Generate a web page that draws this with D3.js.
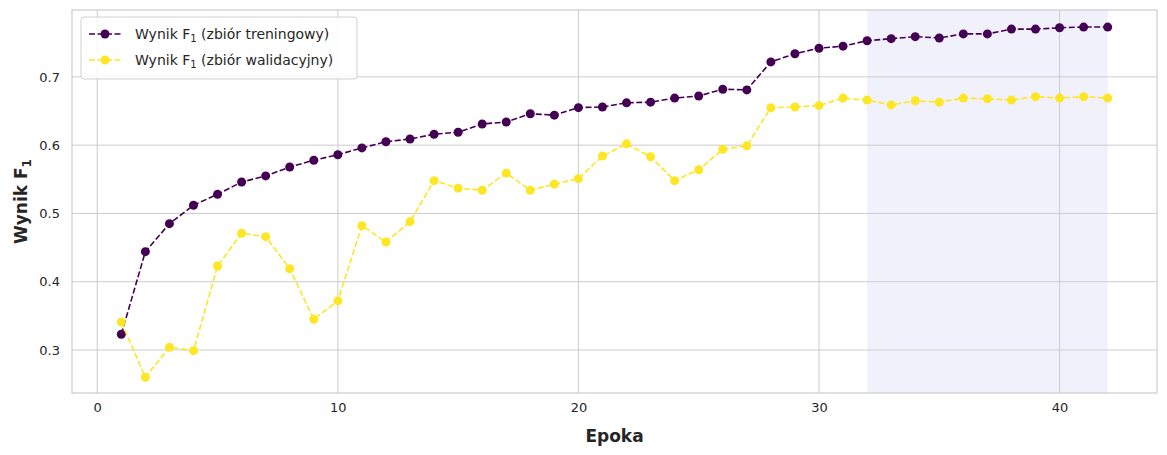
<!DOCTYPE html>
<html><head><meta charset="utf-8">
<script src="https://cdn.jsdelivr.net/npm/d3@7"></script>
<style>body{margin:0;background:#fff;font-family:"DejaVu Sans",sans-serif;}</style>
</head><body><div id="chart"></div>
<script>
const epochs = d3.range(1, 43);
const trainF1 = [0.323,0.444,0.485,0.512,0.528,0.546,0.555,0.568,0.578,0.586,0.596,0.605,0.609,0.616,0.619,0.631,0.634,0.646,0.644,0.655,0.656,0.662,0.663,0.669,0.672,0.682,0.681,0.722,0.734,0.742,0.745,0.753,0.756,0.759,0.757,0.763,0.763,0.770,0.770,0.772,0.773,0.773];
const valF1 = [0.341,0.260,0.304,0.299,0.423,0.471,0.466,0.419,0.345,0.372,0.482,0.458,0.488,0.548,0.537,0.534,0.559,0.534,0.543,0.551,0.584,0.602,0.583,0.548,0.564,0.594,0.599,0.655,0.656,0.658,0.669,0.666,0.659,0.665,0.663,0.669,0.668,0.666,0.671,0.669,0.671,0.669];
const xTicks = [0,10,20,30,40];
const yTicks = [0.3,0.4,0.5,0.6,0.7];
const shade = [32, 42];
const series = [
  {name:"treningowy", values:trainF1, color:"#440154"},
  {name:"walidacyjny", values:valF1, color:"#fde725"}
];

const W = 1167, H = 455;
const m = {left:72, right:10, top:10, bottom:62};
const svg = d3.select("#chart").append("svg").attr("width", W).attr("height", H);
const x = d3.scaleLinear().domain([-1.05, 44.05]).range([m.left, W - m.right]);
const y = d3.scaleLinear().domain([0.237, 0.798]).range([H - m.bottom, m.top]);

svg.append("rect").attr("x", x(shade[0])).attr("y", m.top)
  .attr("width", x(shade[1]) - x(shade[0])).attr("height", y.range()[0] - m.top)
  .attr("fill", "#e6e6fa").attr("opacity", 0.55);

const g = svg.append("g");
g.selectAll(".gx").data(xTicks).enter().append("line")
  .attr("x1", d => x(d)).attr("x2", d => x(d)).attr("y1", m.top).attr("y2", H - m.bottom)
  .attr("stroke", "#cccccc").attr("stroke-width", 1);
g.selectAll(".gy").data(yTicks).enter().append("line")
  .attr("y1", d => y(d)).attr("y2", d => y(d)).attr("x1", m.left).attr("x2", W - m.right)
  .attr("stroke", "#cccccc").attr("stroke-width", 1);

svg.append("rect").attr("x", m.left).attr("y", m.top)
  .attr("width", W - m.right - m.left).attr("height", H - m.bottom - m.top)
  .attr("fill", "none").attr("stroke", "#cccccc").attr("stroke-width", 1.2);

const xAxis = svg.append("g").attr("transform", `translate(0,${H - m.bottom})`)
  .call(d3.axisBottom(x).tickValues(xTicks).tickSize(0).tickPadding(10));
const yAxis = svg.append("g").attr("transform", `translate(${m.left},0)`)
  .call(d3.axisLeft(y).tickValues(yTicks).tickSize(0).tickPadding(12).tickFormat(d3.format(".1f")));
[xAxis, yAxis].forEach(a => {
  a.select(".domain").remove();
  a.selectAll("text").attr("font-size", 13).attr("fill", "#262626").attr("font-family", "DejaVu Sans");
});

const line = d3.line().x((d, i) => x(epochs[i])).y(d => y(d));
series.forEach(s => {
  svg.append("path").datum(s.values).attr("d", line).attr("fill", "none")
    .attr("stroke", s.color).attr("stroke-width", 1.6).attr("stroke-dasharray", "6,2.5");
  svg.selectAll(null).data(s.values).enter().append("circle")
    .attr("cx", (d, i) => x(epochs[i])).attr("cy", d => y(d)).attr("r", 4.5).attr("fill", s.color);
});

svg.append("text").attr("x", (m.left + W - m.right) / 2).attr("y", 442).attr("text-anchor", "middle")
  .attr("font-size", 17).attr("font-weight", "bold").attr("fill", "#262626").text("Epoka");
const yl = svg.append("text").attr("transform", `translate(27,${(m.top + H - m.bottom) / 2}) rotate(-90)`)
  .attr("text-anchor", "middle").attr("font-size", 17).attr("font-weight", "bold").attr("fill", "#262626");
yl.append("tspan").text("Wynik F");
yl.append("tspan").attr("font-size", 12).attr("dy", 4).text("1");

const lg = svg.append("g").attr("transform", "translate(81,17)");
lg.append("rect").attr("width", 276).attr("height", 62).attr("rx", 3)
  .attr("fill", "#fff").attr("fill-opacity", 0.85).attr("stroke", "#d0d0d0");
series.forEach((s, i) => {
  const yy = 17 + i * 26;
  lg.append("line").attr("x1", 8).attr("x2", 40).attr("y1", yy).attr("y2", yy)
    .attr("stroke", s.color).attr("stroke-width", 1.6).attr("stroke-dasharray", "6,2.5");
  lg.append("circle").attr("cx", 24).attr("cy", yy).attr("r", 4.5).attr("fill", s.color);
  const t = lg.append("text").attr("x", 54).attr("y", yy + 5).attr("font-size", 14).attr("fill", "#262626");
  t.append("tspan").text("Wynik F");
  t.append("tspan").attr("font-size", 10).attr("dy", 3).text("1");
  t.append("tspan").attr("dy", -3).text(` (zbiór ${s.name})`);
});
</script></body></html>
